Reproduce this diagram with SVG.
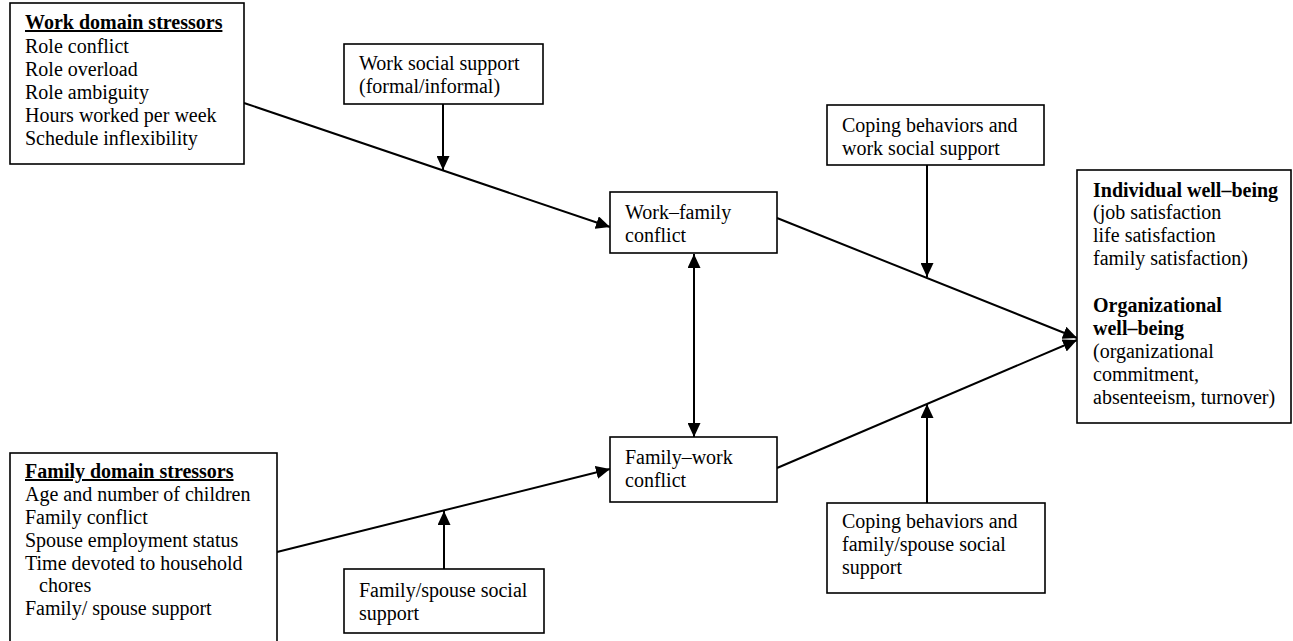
<svg xmlns="http://www.w3.org/2000/svg" width="1293" height="641" viewBox="0 0 1293 641">
<style>
text{font-family:"Liberation Serif","Times New Roman",serif;font-size:20px;fill:#000}
.b{font-weight:bold}
.u{text-decoration:underline}
rect{fill:#fff;stroke:#000;stroke-width:1.6}
.c line{stroke:#000;stroke-width:2}
</style>
<defs>
<marker id="ah" markerUnits="userSpaceOnUse" markerWidth="15" markerHeight="13" refX="14" refY="6.5" orient="auto-start-reverse">
<path d="M0,0 L14,6.5 L0,13 z" fill="#000"/>
</marker>
</defs>
<g class="c" id="connectors">
<line x1="244" y1="103" x2="610" y2="227" marker-end="url(#ah)"/>
<line x1="443" y1="104" x2="443" y2="170" marker-end="url(#ah)"/>
<line x1="277" y1="552" x2="610" y2="469" marker-end="url(#ah)"/>
<line x1="444" y1="569" x2="444" y2="511" marker-end="url(#ah)"/>
<line x1="694" y1="254" x2="694" y2="437" marker-start="url(#ah)" marker-end="url(#ah)"/>
<line x1="777" y1="218" x2="1077" y2="338" marker-end="url(#ah)"/>
<line x1="777" y1="468" x2="1077" y2="340" marker-end="url(#ah)"/>
<line x1="927" y1="165" x2="927" y2="277" marker-end="url(#ah)"/>
<line x1="927" y1="503" x2="927" y2="404" marker-end="url(#ah)"/>
</g>
<g id="work-stressors">
<rect x="10" y="3" width="234" height="161"/>
<text x="25" y="29" class="b u">Work domain stressors</text>
<text x="25" y="53">Role conflict</text>
<text x="25" y="76">Role overload</text>
<text x="25" y="99">Role ambiguity</text>
<text x="25" y="122">Hours worked per week</text>
<text x="25" y="145">Schedule inflexibility</text>
</g>
<g id="work-support">
<rect x="344" y="44" width="199" height="60"/>
<text x="359" y="70">Work social support</text>
<text x="359" y="93">(formal/informal)</text>
</g>
<g id="work-family">
<rect x="610" y="192" width="167" height="61"/>
<text x="625" y="219">Work–family</text>
<text x="625" y="242">conflict</text>
</g>
<g id="family-work">
<rect x="610" y="437" width="167" height="65"/>
<text x="625" y="464">Family–work</text>
<text x="625" y="487">conflict</text>
</g>
<g id="family-stressors">
<rect x="10" y="453" width="267" height="200"/>
<text x="25" y="478" class="b u">Family domain stressors</text>
<text x="25" y="501">Age and number of children</text>
<text x="25" y="524">Family conflict</text>
<text x="25" y="547">Spouse employment status</text>
<text x="25" y="570">Time devoted to household</text>
<text x="39" y="592">chores</text>
<text x="25" y="615">Family/ spouse support</text>
</g>
<g id="family-support">
<rect x="344" y="569" width="200" height="64"/>
<text x="359" y="597">Family/spouse social</text>
<text x="359" y="620">support</text>
</g>
<g id="coping-work">
<rect x="827" y="105" width="217" height="60"/>
<text x="842" y="132">Coping behaviors and</text>
<text x="842" y="155">work social support</text>
</g>
<g id="coping-family">
<rect x="827" y="503" width="218" height="90"/>
<text x="842" y="528">Coping behaviors and</text>
<text x="842" y="551">family/spouse social</text>
<text x="842" y="574">support</text>
</g>
<g id="outcomes">
<rect x="1077" y="170" width="214" height="253"/>
<text x="1093" y="197" class="b">Individual well–being</text>
<text x="1093" y="219">(job satisfaction</text>
<text x="1093" y="242">life satisfaction</text>
<text x="1093" y="265">family satisfaction)</text>
<text x="1093" y="312" class="b">Organizational</text>
<text x="1093" y="335" class="b">well–being</text>
<text x="1093" y="358">(organizational</text>
<text x="1093" y="381">commitment,</text>
<text x="1093" y="404">absenteeism, turnover)</text>
</g>
</svg>
